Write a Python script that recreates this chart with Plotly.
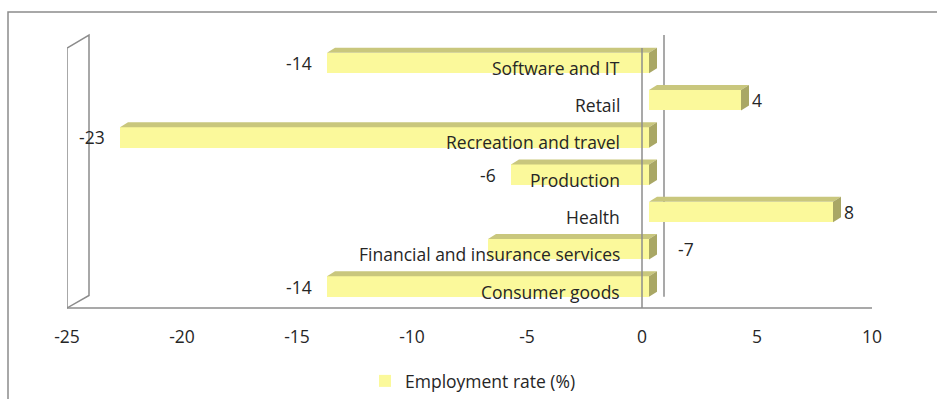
import plotly.graph_objects as go

# ---------------- data ----------------
categories = ["Software and IT", "Retail", "Recreation and travel", "Production",
              "Health", "Financial and insurance services", "Consumer goods"]
values = [-14, 4, -23, -6, 8, -7, -14]
series_name = "Employment rate (%)"
x_ticks = [-25, -20, -15, -10, -5, 0, 5, 10]

# ---------------- style ----------------
W, H = 937, 399
ML, MR, MT, MB = 67, 65, 35, 91
PW = W - ML - MR          # 805 px plot width
PH = H - MT - MB          # 273 px plot height
XMIN, XMAX = -25, 10
PX_PER_X = PW / (XMAX - XMIN)          # 23 px per unit
Y_LO, Y_HI = -0.577, 6.75
PX_PER_Y = PH / (Y_HI - Y_LO)
BAR_SHIFT_PX = 7                        # bars sit a little deeper in the 3D box
BAR_W = 20.5 / PX_PER_Y
FACE_DX = 8 / PX_PER_X
FACE_DY = 5 / PX_PER_Y
WALL_DX = 22 / PX_PER_X
WALL_DY = 12.5 / PH

FRONT = "#FBF99B"
TOP = "#C9C77D"
SIDE = "#A9A765"
LINE = "#8C8C8C"
TXT = "#262626"
FONT = "Open Sans"
FS = 17.5

n = len(categories)
pos = [n - 1 - i for i in range(n)]

fig = go.Figure()

# front faces
fig.add_trace(go.Bar(
    x=values, y=pos, orientation="h", width=BAR_W,
    marker=dict(color=FRONT, line=dict(width=0)),
    name=series_name, xaxis="x2", yaxis="y", showlegend=True,
    hoverinfo="skip",
))

# top and side faces (3D look)
tx, ty, sx, sy = [], [], [], []
for v, p in zip(values, pos):
    xa, xb = min(0, v), max(0, v)
    yt, yb = p + BAR_W / 2, p - BAR_W / 2
    tx += [xa, xa + FACE_DX, xb + FACE_DX, xb, xa, None]
    ty += [yt, yt + FACE_DY, yt + FACE_DY, yt, yt, None]
    sx += [xb, xb + FACE_DX, xb + FACE_DX, xb, xb, None]
    sy += [yt, yt + FACE_DY, yb + FACE_DY, yb, yt, None]
fig.add_trace(go.Scatter(x=tx, y=ty, fill="toself", fillcolor=TOP, mode="none",
                         xaxis="x2", yaxis="y", showlegend=False, hoverinfo="skip"))
fig.add_trace(go.Scatter(x=sx, y=sy, fill="toself", fillcolor=SIDE, mode="none",
                         xaxis="x2", yaxis="y", showlegend=False, hoverinfo="skip"))

# ---------------- annotations ----------------
ann = []
for c, v, p in zip(categories, values, pos):
    ann.append(dict(x=0, y=p, xref="x", yref="y", text=c, showarrow=False,
                    xanchor="right", yanchor="middle", xshift=-20, yshift=-5,
                    font=dict(family=FONT, size=FS, color=TXT)))
    if c == "Financial and insurance services":
        ax, anc, sh = 0, "left", 27
    elif v < 0:
        ax, anc, sh = v, "right", -13
    else:
        ax, anc, sh = v, "left", 9
    ann.append(dict(x=ax, y=p, xref="x2", yref="y", text=str(v), showarrow=False,
                    xanchor=anc, yanchor="middle", xshift=sh,
                    font=dict(family=FONT, size=FS, color=TXT)))

# ---------------- decorative 3D frame lines ----------------
top_front = (MT + PH - 48) / PH   # paper y of front top edge
shapes = [
    # outer chart border
    dict(type="rect", xref="paper", yref="paper",
         x0=(8 - ML) / PW, x1=(W + 5 - ML) / PW,
         y0=-(H + 5 - MT - PH) / PH, y1=(MT + PH - 12) / PH,
         line=dict(color=LINE, width=1.5), layer="below"),
    # left wall
    dict(type="path", xref="x", yref="paper",
         path=f"M{XMIN},0 L{XMIN},{top_front} L{XMIN + WALL_DX},1 L{XMIN + WALL_DX},{WALL_DY} Z",
         line=dict(color=LINE, width=1.5), layer="below"),
    # floor line
    dict(type="line", xref="x", yref="paper", x0=XMIN, x1=XMAX, y0=0, y1=0,
         line=dict(color=LINE, width=1.5), layer="below"),
    # zero line back
    dict(type="line", xref="x", yref="paper", x0=WALL_DX, x1=WALL_DX, y0=WALL_DY - 0.005, y1=1,
         line=dict(color=LINE, width=1.5), layer="below"),
    # zero line front (drawn over bars)
    dict(type="line", xref="x", yref="paper", x0=0, x1=0, y0=0, y1=top_front,
         line=dict(color=LINE, width=1.5), layer="above"),
]

x2_lo = XMIN
x2_hi = XMIN + (PW - BAR_SHIFT_PX) / PX_PER_X

fig.update_layout(
    width=W, height=H,
    margin=dict(l=ML, r=MR, t=MT, b=MB, autoexpand=False),
    paper_bgcolor="white", plot_bgcolor="rgba(0,0,0,0)",
    font=dict(family=FONT, size=FS, color=TXT),
    xaxis=dict(range=[XMIN, XMAX], domain=[0, 1], tickvals=x_ticks,
               ticktext=[str(t) for t in x_ticks], showgrid=False, zeroline=False,
               showline=False, ticks="", ticklabelstandoff=16, anchor="y",
               tickfont=dict(family=FONT, size=FS, color=TXT)),
    xaxis2=dict(range=[x2_lo, x2_hi], domain=[BAR_SHIFT_PX / PW, 1], anchor="y",
                showgrid=False, zeroline=False, showline=False, showticklabels=False,
                ticks=""),
    yaxis=dict(range=[Y_LO, Y_HI], showgrid=False, zeroline=False, showline=False,
               showticklabels=False, ticks=""),
    showlegend=True,
    legend=dict(orientation="h", x=(365 - ML) / PW, xanchor="left",
                y=(MT + PH - 381) / PH, yanchor="middle",
                font=dict(family=FONT, size=FS, color=TXT), bgcolor="rgba(0,0,0,0)"),
    annotations=ann, shapes=shapes,
    bargap=0,
)

fig.write_html("out.html")
